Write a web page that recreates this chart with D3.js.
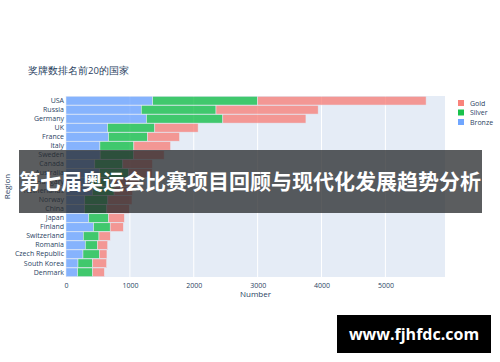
<!DOCTYPE html>
<html>
<head>
<meta charset="utf-8">
<script src="https://cdn.jsdelivr.net/npm/d3@7"></script>
<style>
  body { margin: 0; background: #fff; }
  svg { font-family: "Open Sans", "Noto Sans", sans-serif; }
</style>
</head>
<body>
<div id="chart"></div>
<script>
var svgWidth = 500;
var svgHeight = 362;

// data
var regions = ["USA", "Russia", "Germany", "UK", "France", "Italy", "Sweden", "Canada",
  "Australia", "Hungary", "Netherlands", "Norway", "China", "Japan", "Finland",
  "Switzerland", "Romania", "Czech Republic", "South Korea", "Denmark"];
var bronze = [1358, 1178, 1260, 651, 666, 531, 535, 451, 522, 371, 413, 294, 292, 357, 432, 271, 303, 266, 188, 183];
var silver = [1641, 1170, 1195, 739, 610, 531, 522, 438, 459, 332, 340, 361, 347, 309, 260, 245, 188, 256, 229, 234];
var gold   = [2638, 1599, 1301, 678, 501, 575, 479, 463, 368, 432, 287, 378, 351, 247, 205, 177, 161, 119, 219, 183];
var medalNames = ["Bronze", "Silver", "Gold"];
var xTicks = [0, 1000, 2000, 3000, 4000, 5000];

var colors = { Gold: "#F8766D", Silver: "#00BA38", Bronze: "#619CFF" };

var margin = { top: 96, right: 55, bottom: 85, left: 66 };
var width = 445 - margin.left;
var height = 277 - margin.top;

var svg = d3.select("#chart")
  .append("svg")
  .attr("width", svgWidth)
  .attr("height", svgHeight);

// title
svg.append("text")
  .attr("x", 28)
  .attr("y", 74)
  .attr("font-size", 9.5)
  .attr("fill", "#2a3f5f")
  .text("奖牌数排名前20的国家");

var chartGroup = svg.append("g")
  .attr("transform", `translate(${margin.left}, ${margin.top})`);

var table = regions.map(function(r, i) {
  return { region: r, Bronze: bronze[i], Silver: silver[i], Gold: gold[i] };
});
var series = d3.stack().keys(medalNames)(table);

var xScale = d3.scaleLinear()
  .domain([0, 5933])
  .range([0, width]);

var yScale = d3.scaleBand()
  .domain(regions)
  .range([0, height])
  .padding(0.04);

chartGroup.append("rect")
  .attr("width", width)
  .attr("height", height)
  .attr("fill", "#E5ECF6");

// grid lines
chartGroup.selectAll(".grid")
  .data(xTicks.slice(1))
  .enter()
  .append("line")
  .attr("x1", d => xScale(d))
  .attr("x2", d => xScale(d))
  .attr("y1", 0)
  .attr("y2", height)
  .attr("stroke", "#fff")
  .attr("stroke-width", 1);

chartGroup.selectAll(".series")
  .data(series)
  .enter()
  .append("g")
  .attr("fill", d => colors[d.key])
  .attr("fill-opacity", 0.72)
  .selectAll("rect")
  .data(d => d)
  .enter()
  .append("rect")
  .attr("x", d => xScale(d[0]))
  .attr("y", d => yScale(d.data.region))
  .attr("width", d => xScale(d[1]) - xScale(d[0]))
  .attr("height", yScale.bandwidth())
  .attr("stroke", "#E5ECF6")
  .attr("stroke-width", 0.5);

// axes
var bottomAxis = d3.axisBottom(xScale).tickValues(xTicks).tickFormat(d3.format("d")).tickSize(0).tickPadding(6);
var xAxis = chartGroup.append("g")
  .attr("transform", `translate(0, ${height})`)
  .call(bottomAxis);
xAxis.select(".domain").remove();
xAxis.selectAll("text").attr("font-size", 7).attr("fill", "#2a3f5f").attr("font-family", "Open Sans, sans-serif");

var leftAxis = d3.axisLeft(yScale).tickSize(0).tickPadding(2);
var yAxis = chartGroup.append("g").call(leftAxis);
yAxis.select(".domain").remove();
yAxis.selectAll("text").attr("font-size", 7).attr("fill", "#2a3f5f").attr("font-family", "Open Sans, sans-serif");

// axis titles
svg.append("text")
  .attr("x", margin.left + width / 2)
  .attr("y", 297)
  .attr("text-anchor", "middle")
  .attr("font-size", 8)
  .attr("fill", "#2a3f5f")
  .text("Number");

svg.append("text")
  .attr("transform", `translate(10, ${margin.top + height / 2}) rotate(-90)`)
  .attr("text-anchor", "middle")
  .attr("font-size", 8)
  .attr("fill", "#2a3f5f")
  .text("Region");

// legend, reversed like plotly stacks
var legend = svg.append("g").attr("transform", "translate(458, 103)");
var legendItems = medalNames.slice().reverse();
legendItems.forEach(function(name, i) {
  var item = legend.append("g").attr("transform", `translate(0, ${i * 9.5})`);
  item.append("rect")
    .attr("x", 0).attr("y", -3)
    .attr("width", 6).attr("height", 6)
    .attr("fill", colors[name])
    .attr("fill-opacity", 0.9);
  item.append("text")
    .attr("x", 12).attr("y", 2.5)
    .attr("font-size", 7)
    .attr("fill", "#2a3f5f")
    .text(name);
});

// overlay banner
svg.append("rect")
  .attr("x", 19).attr("y", 150)
  .attr("width", 463).attr("height", 63)
  .attr("fill", "rgb(40,42,45)")
  .attr("fill-opacity", 0.76);
svg.append("text")
  .attr("x", 250).attr("y", 189)
  .attr("text-anchor", "middle")
  .attr("font-family", "Noto Sans CJK SC, sans-serif")
  .attr("font-weight", "bold")
  .attr("font-size", 21)
  .attr("fill", "#fff")
  .text("第七届奥运会比赛项目回顾与现代化发展趋势分析");

// watermark
svg.append("rect")
  .attr("x", 337).attr("y", 315)
  .attr("width", 154).attr("height", 38)
  .attr("fill", "#000");
svg.append("text")
  .attr("x", 414).attr("y", 339.5)
  .attr("text-anchor", "middle")
  .attr("font-family", "Open Sans, sans-serif")
  .attr("font-weight", "bold")
  .attr("font-size", 16)
  .attr("fill", "#fff")
  .text("www.fjhfdc.com");
</script>
</body>
</html>
